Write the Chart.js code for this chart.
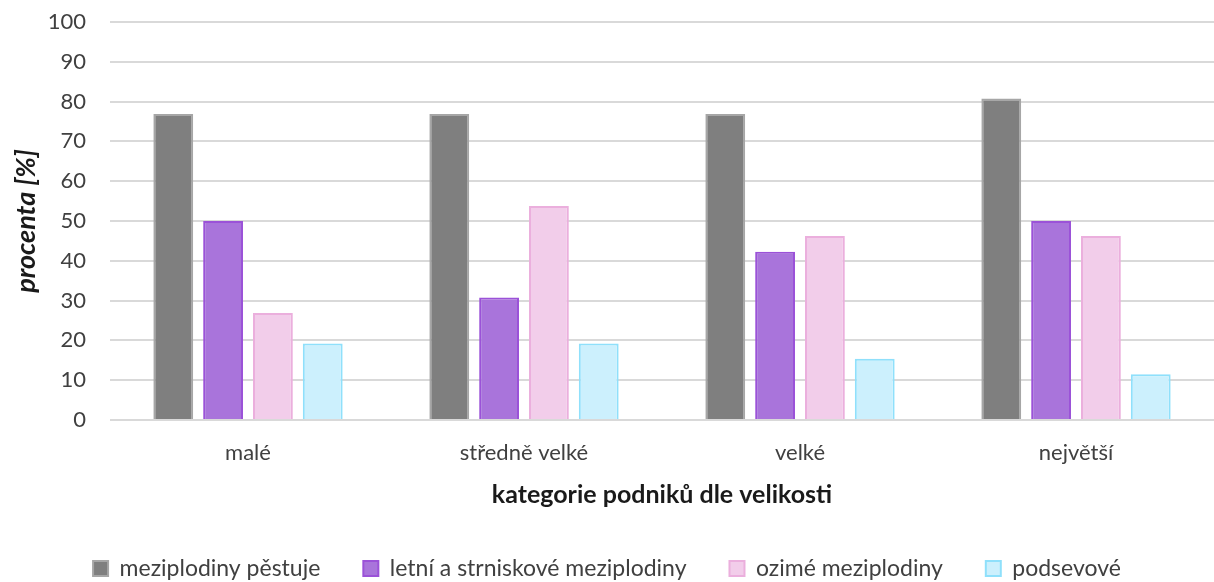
<!DOCTYPE html>
<html lang="cs">
<head>
<meta charset="utf-8">
<title>Meziplodiny dle velikosti podniku</title>
<script src="https://cdn.jsdelivr.net/npm/chart.js@4/dist/chart.umd.min.js"></script>
<style>
  html, body { margin: 0; padding: 0; background: #fff; }
  #wrap { width: 1214px; height: 582px; }
</style>
</head>
<body>
<div id="wrap"><canvas id="chart" width="1214" height="582"></canvas></div>
<script>
// ── Data ───────────────────────────────────────────
const CATEGORIES = ["malé", "středně velké", "velké", "největší"];

const SERIES_NAMES = [
  "meziplodiny pěstuje",
  "letní a strniskové meziplodiny",
  "ozimé meziplodiny",
  "podsevové",
];

const PESTUJE   = [76.9, 76.9, 76.9, 80.8];
const LETNI     = [50.0, 30.8, 42.3, 50.0];
const OZIME     = [26.9, 53.8, 46.2, 46.2];
const PODSEVOVE = [19.2, 19.2, 15.4, 11.5];

const Y_TICKS = [0, 10, 20, 30, 40, 50, 60, 70, 80, 90, 100];

const FILLS   = ["#7f7f7f", "#a974db", "#f2cdea", "#ccf0fd"];
const BORDERS = ["#a6a6a6", "#9b52d8", "#ebafdd", "#8fe0fb"];

const FONT = "Lato, 'Open Sans', sans-serif";

// ── Chart ──────────────────────────────────────────
const values = [PESTUJE, LETNI, OZIME, PODSEVOVE];

new Chart(document.getElementById("chart"), {
  type: "bar",
  data: {
    labels: CATEGORIES,
    datasets: values.map((v, i) => ({
      label: SERIES_NAMES[i],
      data: v,
      backgroundColor: FILLS[i],
      borderColor: BORDERS[i],
      borderWidth: 2,
      borderSkipped: "bottom",
      categoryPercentage: 0.722,
      barPercentage: 0.8,
    })),
  },
  options: {
    responsive: false,
    animation: false,
    devicePixelRatio: 1,
    layout: { padding: { top: 22, right: 0, bottom: 0, left: 0 } },
    plugins: {
      tooltip: { enabled: false },
      legend: {
        position: "bottom",
        maxHeight: 68,
        labels: {
          font: { family: FONT, size: 23 },
          color: "#404040",
          boxWidth: 15,
          boxHeight: 15,
          padding: 43,
        },
      },
    },
    scales: {
      x: {
        afterFit: s => { s.height = 94; },
        grid: { display: false, drawTicks: false },
        border: { display: false },
        ticks: { font: { family: FONT, size: 22 }, color: "#404040", padding: 20 },
        title: {
          display: true,
          text: "kategorie podniků dle velikosti",
          font: { family: FONT, size: 25, weight: "bold" },
          color: "#1a1a1a",
          padding: { top: 0, bottom: 4 },
        },
      },
      y: {
        min: 0,
        max: 100,
        afterBuildTicks: s => { s.ticks = Y_TICKS.map(v => ({ value: v })); },
        afterFit: s => { s.width = 110; s.paddingTop = 0; s.paddingBottom = 0; },
        grid: { color: "#d9d9d9", lineWidth: 2, drawTicks: false },
        border: { display: false },
        ticks: { font: { family: FONT, size: 22 }, color: "#404040", padding: 24 },
        title: {
          display: true,
          text: "procenta [%]",
          font: { family: FONT, size: 27, weight: "bold", style: "italic" },
          color: "#1a1a1a",
          padding: { top: 10, bottom: 0 },
        },
      },
    },
  },
});
</script>
</body>
</html>
